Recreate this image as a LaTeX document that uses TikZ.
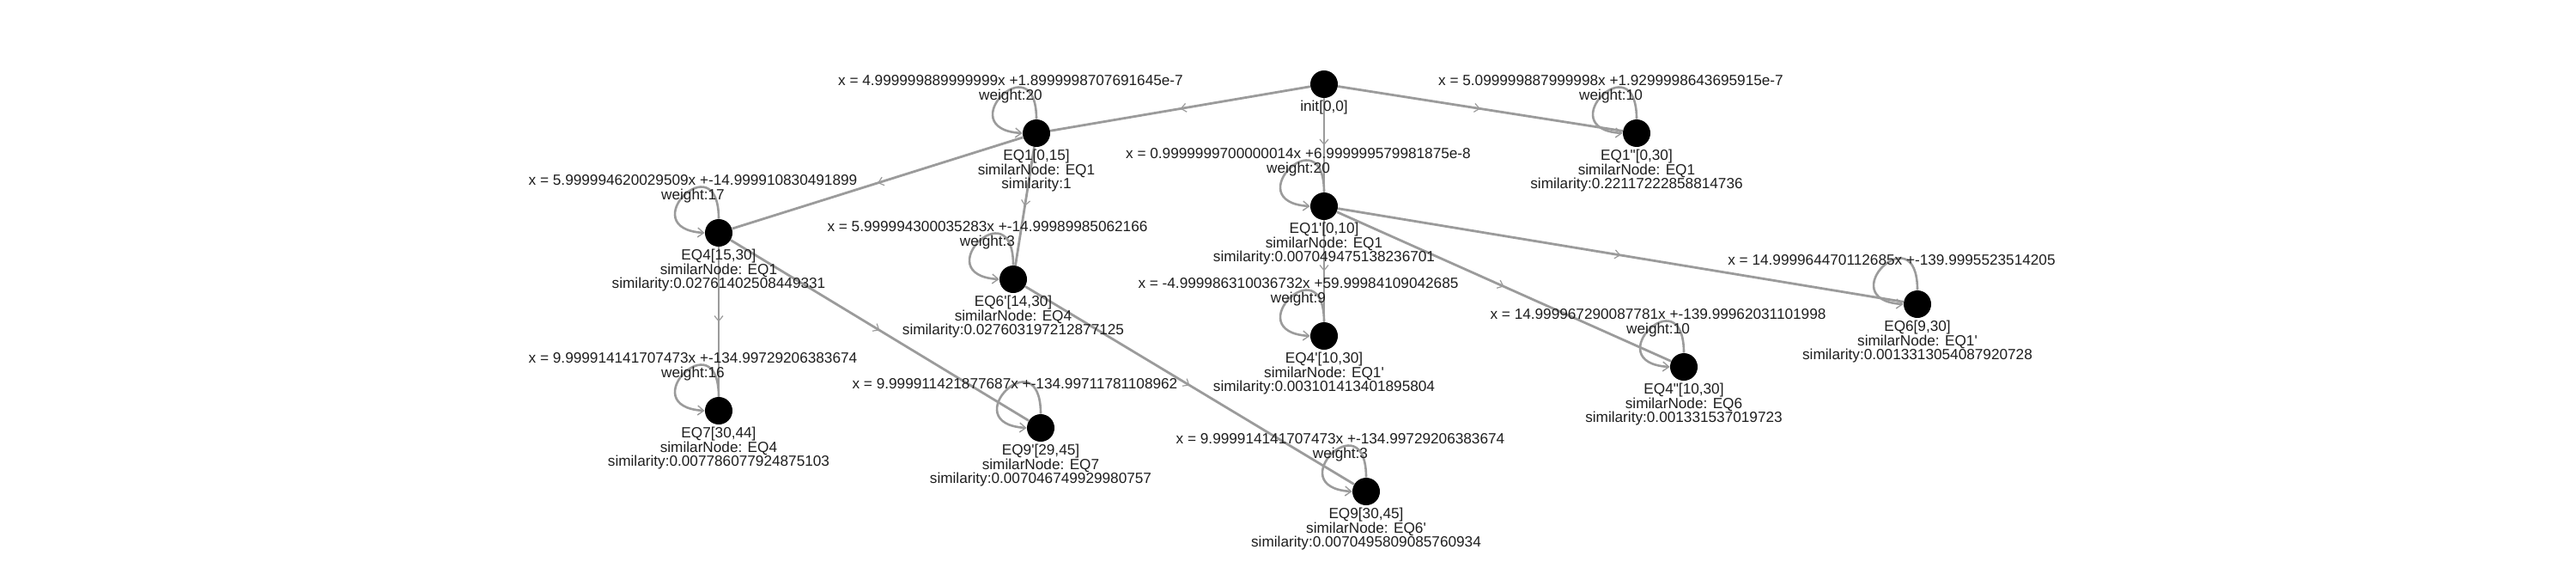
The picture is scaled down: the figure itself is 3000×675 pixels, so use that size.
\documentclass[tikz,border=0pt]{standalone}
\usepackage{fontspec}
\setmainfont{Liberation Sans}[Ligatures=TeXOff]
\usepackage{tikz}
\usetikzlibrary{arrows.meta,decorations.markings,calc}
\definecolor{linkgray}{RGB}{155,155,155}
\definecolor{textgray}{RGB}{30,30,30}
\def\LoopUp{90}
\def\LoopLeft{85}

\begin{document}
\begin{tikzpicture}[x=0.5pt,y=-0.5pt,
	state/.style={circle,fill=black,minimum size=16pt,inner sep=0pt},
	info/.style={font=\fontsize{8.6}{8.4}\selectfont,text=textgray,align=center,inner sep=0pt},
	link/.style={draw=linkgray,line width=1.4pt,postaction={decorate},
		decoration={markings,mark=at position 0.5 with {\arrow{Straight Barb[length=3pt,width=5pt,line width=0.6pt]}}}},
	selfloop/.style={draw=linkgray,line width=1.3pt,-{Straight Barb[length=3.5pt,width=5.5pt,line width=0.7pt]}}]
	\useasboundingbox (0,0) rectangle (3000,675);
	% states
	\node[state] (init) at (1542,98) {};
	\node[state] (eq1) at (1207,155) {};
	\node[state] (eq1pp) at (1906,155) {};
	\node[state] (eq1p) at (1542,240) {};
	\node[state] (eq4) at (837,271) {};
	\node[state] (eq6p) at (1180,325) {};
	\node[state] (eq6) at (2233,354) {};
	\node[state] (eq4p) at (1542,391) {};
	\node[state] (eq4pp) at (1961,427) {};
	\node[state] (eq7) at (837,478) {};
	\node[state] (eq9p) at (1212,498) {};
	\node[state] (eq9) at (1591,572) {};
	% 
	\draw[link] (init) -- (eq1);
	\draw[link] (init) -- (eq1pp);
	\draw[link] (init) -- (eq1p);
	\draw[link] (eq1) -- (eq4);
	\draw[link] (eq1) -- (eq6p);
	\draw[link] (eq4) -- (eq7);
	\draw[link] (eq4) -- (eq9p);
	\draw[link] (eq6p) -- (eq9);
	\draw[link] (eq1p) -- (eq4p);
	\draw[link] (eq1p) -- (eq4pp);
	\draw[link] (eq1p) -- (eq6);
	% self loops
	\foreach \s in {eq1,eq1pp,eq1p,eq4,eq6p,eq6,eq4p,eq4pp,eq7,eq9p,eq9}{
		\draw[selfloop] (\s.north) .. controls +(0,-\LoopUp) and +(-\LoopLeft,-5) .. (\s.west);
	}
	% loop labels
	\node[info] (eq1l) at ([shift={(-15pt,25.5pt)}]eq1.center) {x = 4.999999889999999x +1.8999998707691645e-7\\weight:20};
	\node[info] (eq1ppl) at ([shift={(-15pt,25.5pt)}]eq1pp.center) {x = 5.099999887999998x +1.9299998643695915e-7\\weight:10};
	\node[info] (eq1pl) at ([shift={(-15pt,25.5pt)}]eq1p.center) {x = 0.9999999700000014x +6.999999579981875e-8\\weight:20};
	\node[info] (eq4l) at ([shift={(-15pt,25.5pt)}]eq4.center) {x = 5.999994620029509x +-14.999910830491899\\weight:17};
	\node[info] (eq6pl) at ([shift={(-15pt,25.5pt)}]eq6p.center) {x = 5.999994300035283x +-14.99989985062166\\weight:3};
	\node[info] (eq6l) at ([shift={(-15pt,25.5pt)}]eq6.center) {x = 14.999964470112685x +-139.9995523514205};
	\node[info] (eq4pl) at ([shift={(-15pt,25.5pt)}]eq4p.center) {x = -4.999986310036732x +59.99984109042685\\weight:9};
	\node[info] (eq4ppl) at ([shift={(-15pt,25.5pt)}]eq4pp.center) {x = 14.999967290087781x +-139.99962031101998\\weight:10};
	\node[info] (eq7l) at ([shift={(-15pt,25.5pt)}]eq7.center) {x = 9.999914141707473x +-134.99729206383674\\weight:16};
	\node[info] (eq9pl) at ([shift={(-15pt,25.5pt)}]eq9p.center) {x = 9.999911421877687x +-134.99711781108962};
	\node[info] (eq9l) at ([shift={(-15pt,25.5pt)}]eq9.center) {x = 9.999914141707473x +-134.99729206383674\\weight:3};
	% state info
	\node[info,anchor=north] (initi) at ([yshift=-1pt]init.south) {init[0,0]};
	\node[info,anchor=north] (eq1i) at ([yshift=-1pt]eq1.south) {EQ1[0,15]\\similarNode: EQ1\\similarity:1};
	\node[info,anchor=north] (eq1ppi) at ([yshift=-1pt]eq1pp.south) {EQ1"[0,30]\\similarNode: EQ1\\similarity:0.22117222858814736};
	\node[info,anchor=north] (eq1pi) at ([yshift=-1pt]eq1p.south) {EQ1'[0,10]\\similarNode: EQ1\\similarity:0.007049475138236701};
	\node[info,anchor=north] (eq4i) at ([yshift=-1pt]eq4.south) {EQ4[15,30]\\similarNode: EQ1\\similarity:0.02761402508449331};
	\node[info,anchor=north] (eq6pi) at ([yshift=-1pt]eq6p.south) {EQ6'[14,30]\\similarNode: EQ4\\similarity:0.027603197212877125};
	\node[info,anchor=north] (eq6i) at ([yshift=-1pt]eq6.south) {EQ6[9,30]\\similarNode: EQ1'\\similarity:0.0013313054087920728};
	\node[info,anchor=north] (eq4pi) at ([yshift=-1pt]eq4p.south) {EQ4'[10,30]\\similarNode: EQ1'\\similarity:0.003101413401895804};
	\node[info,anchor=north] (eq4ppi) at ([yshift=-1pt]eq4pp.south) {EQ4"[10,30]\\similarNode: EQ6\\similarity:0.001331537019723};
	\node[info,anchor=north] (eq7i) at ([yshift=-1pt]eq7.south) {EQ7[30,44]\\similarNode: EQ4\\similarity:0.007786077924875103};
	\node[info,anchor=north] (eq9pi) at ([yshift=-1pt]eq9p.south) {EQ9'[29,45]\\similarNode: EQ7\\similarity:0.007046749929980757};
	\node[info,anchor=north] (eq9i) at ([yshift=-1pt]eq9.south) {EQ9[30,45]\\similarNode: EQ6'\\similarity:0.0070495809085760934};
\end{tikzpicture}
\end{document}
